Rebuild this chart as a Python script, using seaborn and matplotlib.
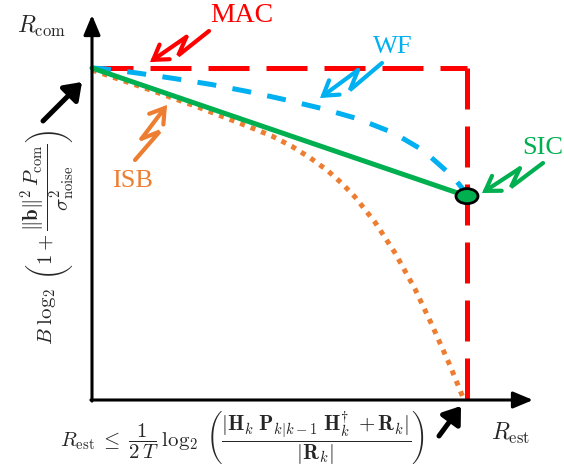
import numpy as np
import pandas as pd
import seaborn as sns
import matplotlib
matplotlib.use("Agg")
import matplotlib.pyplot as plt
from matplotlib.patches import Ellipse

# Normalised rate region: x = R_est / R_est,max, y = R_com / R_com,max
mac_x = [0.0, 1.0, 1.0]
mac_y = [1.0, 1.0, 0.0]
sic_x = [0.0, 1.0]
sic_y = [1.0, 0.614]
wf_x = [0.0, 0.029, 0.12, 0.221, 0.32, 0.416, 0.509, 0.613, 0.709, 0.803, 0.883, 0.963, 0.995, 1.0]
wf_y = [1.0, 0.998, 0.985, 0.968, 0.95, 0.929, 0.906, 0.878, 0.847, 0.805, 0.752, 0.672, 0.627, 0.614]
isb_x = [0.0, 0.155, 0.288, 0.421, 0.48, 0.533, 0.581, 0.627, 0.667, 0.701, 0.755, 0.808, 0.861, 0.907, 0.955, 0.992]
isb_y = [0.994, 0.934, 0.88, 0.822, 0.795, 0.764, 0.73, 0.692, 0.652, 0.612, 0.535, 0.443, 0.335, 0.225, 0.103, 0.0]

RED, BLUE, GREEN, ORANGE = "#FF0000", "#00B0F0", "#00B050", "#ED7D31"

sns.set_theme(style="white")
plt.rcParams["font.family"] = ["Liberation Serif", "DejaVu Serif"]
plt.rcParams["mathtext.fontset"] = "cm"

fig = plt.figure(figsize=(5.64, 4.76), dpi=100)
ax = fig.add_axes([0, 0, 1, 1])
ax.set_axis_off()

# pixel layout of the figure: origin and unit lengths of the rate axes
X0, Y0, SX, SY = 92.0, 400.0, 375.0, 332.0
ax.set_xlim(-X0 / SX, (564 - X0) / SX)
ax.set_ylim((Y0 - 476) / SY, Y0 / SY)


def P(xp, yp):
    """Figure pixel position -> data coordinates."""
    return ((xp - X0) / SX, (Y0 - yp) / SY)


def line(xs, ys, color, dash, lw=3.6, z=2):
    df = pd.DataFrame({"x": xs, "y": ys})
    sns.lineplot(data=df, x="x", y="y", ax=ax, color=color, lw=lw,
                 estimator=None, sort=False, linestyle=dash, zorder=z)


# rate-region boundaries
line(isb_x, isb_y, ORANGE, (0, (1.0, 1.25)), z=2)
line(mac_x[:2], mac_y[:2], RED, (0, (8.2, 3.4)), z=3)
line(mac_x[1:], mac_y[1:], RED, (0, (8.2, 3.4)), z=3)
line(wf_x, wf_y, BLUE, (0, (3.8, 3.3)), z=4)
line(sic_x, sic_y, GREEN, "-", z=5)
ax.add_patch(Ellipse((sic_x[-1], sic_y[-1]), 22 / SX, 15 / SY,
                     facecolor=GREEN, edgecolor="black", lw=2.0, zorder=7))

ax.set_xlabel("")
ax.set_ylabel("")

# coordinate axes with arrow heads
ax_kw = dict(arrowstyle="-|>,head_length=1.0,head_width=0.42",
             mutation_scale=12, lw=2.2, color="black",
             shrinkA=0, shrinkB=0)
ax.annotate("", xy=P(533, 400), xytext=P(90.9, 400), arrowprops=ax_kw, zorder=8)
ax.annotate("", xy=P(92, 15), xytext=P(92, 401.1), arrowprops=ax_kw, zorder=8)

# thick pointers from the formulas to the axis extremes
bk_kw = dict(arrowstyle="-|>,head_length=0.7,head_width=0.5",
             mutation_scale=14, lw=3.6, color="black",
             shrinkA=0, shrinkB=0)
ax.annotate("", xy=P(82, 82), xytext=P(43, 121), arrowprops=bk_kw, zorder=8)
ax.annotate("", xy=P(461, 406), xytext=P(439, 436), arrowprops=bk_kw, zorder=8)


def bolt(s, e, color, side=1):
    """Zig-zag pointer from pixel s to pixel e."""
    sx, sy = s
    ex, ey = e
    dx, dy = ex - sx, ey - sy
    L = np.hypot(dx, dy)
    nx, ny = side * dy / L, -side * dx / L
    a = (sx + 0.58 * dx + 0.11 * L * nx, sy + 0.58 * dy + 0.11 * L * ny)
    b = (sx + 0.34 * dx - 0.08 * L * nx, sy + 0.34 * dy - 0.08 * L * ny)
    pts = [P(*s), P(*a), P(*b)]
    ax.plot([p[0] for p in pts], [p[1] for p in pts], color=color, lw=3.0,
            solid_joinstyle="miter", solid_capstyle="round", zorder=9)
    ax.annotate("", xy=P(*e), xytext=P(*b),
                arrowprops=dict(arrowstyle="->,head_length=0.5,head_width=0.32",
                                mutation_scale=20, lw=3.0, color=color,
                                shrinkA=0, shrinkB=0, joinstyle="miter"),
                zorder=9)


bolt((209, 31), (150, 62), RED)
bolt((382, 63), (320, 98), BLUE)
bolt((543, 163), (482, 193), GREEN)
bolt((135, 160), (167, 105), ORANGE, side=-1)

# curve names
ax.text(*P(242, 15), "MAC", color=RED, fontsize=20, ha="center", va="center")
ax.text(*P(393, 47), "WF", color=BLUE, fontsize=19, ha="center", va="center")
ax.text(*P(543, 148), "SIC", color=GREEN, fontsize=19, ha="center", va="center")
ax.text(*P(133, 181), "ISB", color=ORANGE, fontsize=19, ha="center", va="center")

# axis titles and rate expressions
ax.text(*P(41, 26), r"$R_{\mathrm{com}}$", fontsize=17, ha="center", va="center")
ax.text(*P(511, 433), r"$R_{\mathrm{est}}$", fontsize=17, ha="center", va="center")
ax.text(*P(48, 237),
        r"$B\;\log_2\;\left(1+\dfrac{\Vert\mathbf{b}\Vert^2\,P_{\mathrm{com}}}"
        r"{\sigma^2_{\mathrm{noise}}}\right)$",
        fontsize=15, ha="center", va="center", rotation=90)
ax.text(*P(243, 438),
        r"$R_{\mathrm{est}}\;\leq\;\dfrac{1}{2\,T}\;\log_2\;\left(\dfrac{|\mathbf{H}_k\;"
        r"\mathbf{P}_{k|k-1}\;\mathbf{H}_k^{\dagger}\;+\mathbf{R}_k|}"
        r"{|\mathbf{R}_k|}\right)$",
        fontsize=15, ha="center", va="center")

fig.savefig("out.png", dpi=100)
